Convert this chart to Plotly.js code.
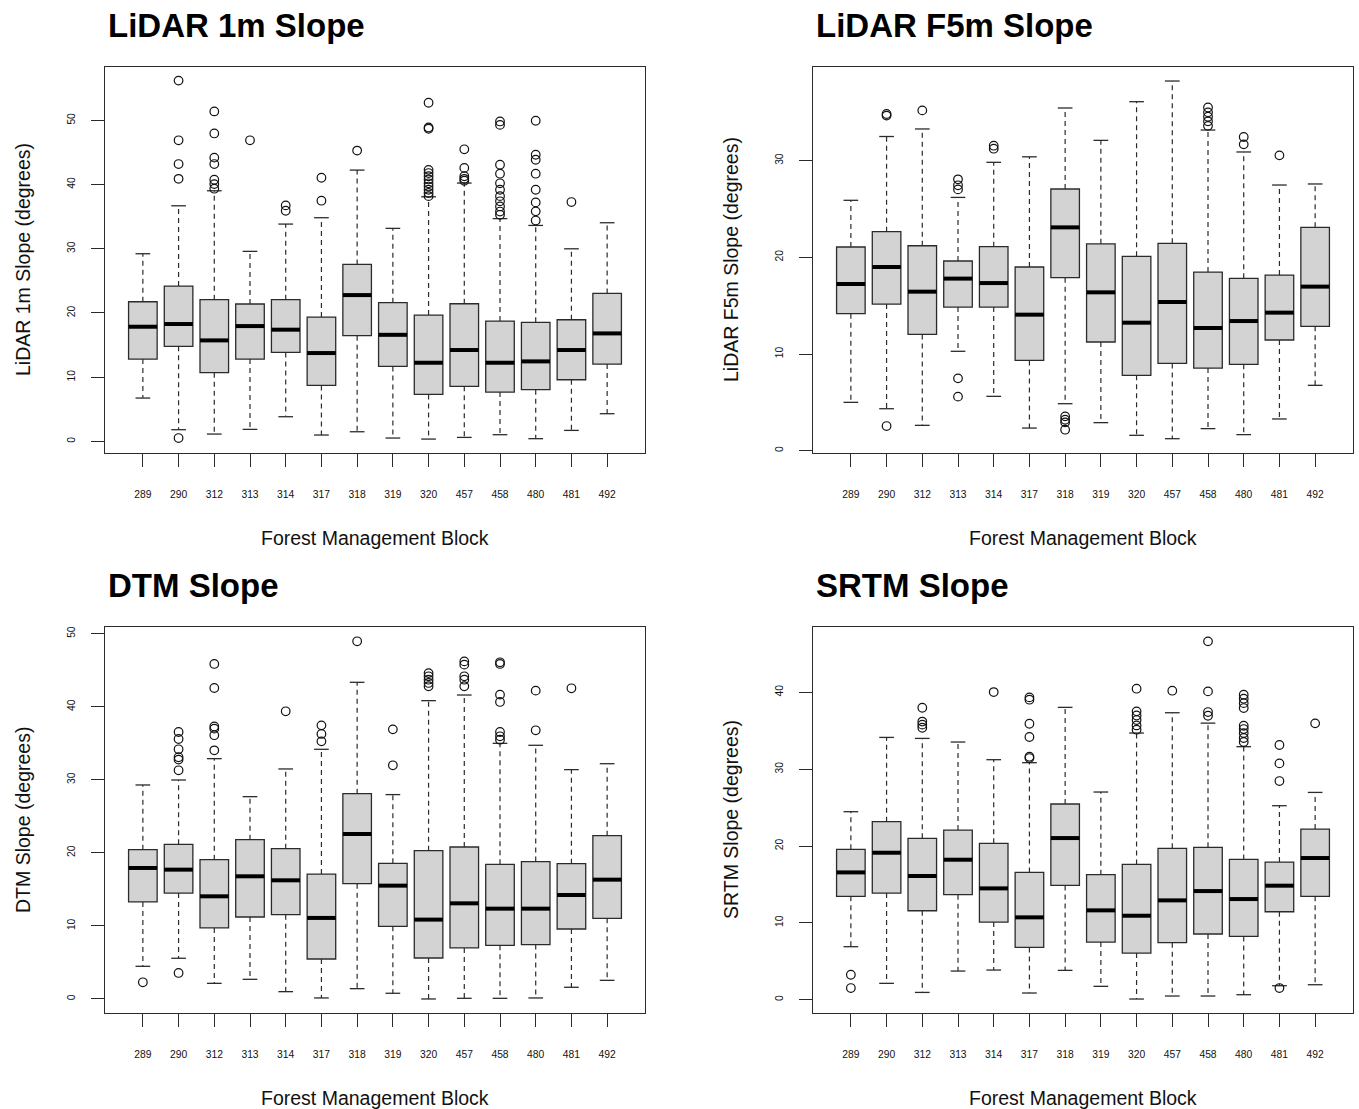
<!DOCTYPE html>
<html>
<head>
<meta charset="utf-8">
<script src="https://cdn.plot.ly/plotly-3.0.1.min.js"></script>
<style>html,body{margin:0;padding:0;background:#fff;}#chart{width:1359px;height:1109px;}</style>
</head>
<body>
<div id="chart"></div>
<script>
// ---------- DATA ----------
const blocks = ['289','290','312','313','314','317','318','319','320','457','458','480','481','492'];

// LiDAR 1m
const lidar1_q1  = [12.82, 14.8, 10.7, 12.82, 13.86, 8.72, 16.46, 11.68, 7.32, 8.57, 7.68, 8.05, 9.6, 12.05];
const lidar1_med = [17.86, 18.28, 15.73, 17.96, 17.4, 13.76, 22.79, 16.6, 12.25, 14.23, 12.25, 12.46, 14.23, 16.82];
const lidar1_q3  = [21.75, 24.2, 22.07, 21.4, 22.07, 19.37, 27.57, 21.6, 19.68, 21.44, 18.74, 18.54, 18.95, 23.05];
const lidar1_lo  = [6.75, 1.82, 1.14, 1.87, 3.84, 0.99, 1.5, 0.52, 0.36, 0.62, 1.04, 0.42, 1.71, 4.31];
const lidar1_hi  = [29.23, 36.7, 39.04, 29.6, 33.85, 34.84, 42.26, 33.18, 38.1, 40.24, 34.7, 33.64, 30.0, 34.06];
const lidar1_out = [
  [], [56.2, 46.9, 43.2, 40.9, 0.52], [51.4, 47.97, 44.2, 43.2, 40.76, 40.08, 39.36], [46.9],
  [36.76, 35.93], [41.07, 37.49], [45.3], [],
  [52.75, 48.9, 48.7, 42.3, 41.8, 41.3, 40.8, 40.2, 39.7, 39.2, 38.7, 38.2],
  [45.5, 42.6, 41.3, 40.9, 40.6],
  [49.84, 49.3, 43.1, 41.7, 40.2, 39.2, 38.2, 37.4, 36.6, 35.8, 35.3],
  [49.95, 44.65, 43.87, 41.7, 39.2, 37.23, 35.83, 34.4],
  [37.28], []
];

// LiDAR F5m
const lidar5_q1  = [14.17, 15.17, 12.03, 14.86, 14.86, 9.34, 17.9, 11.24, 7.79, 9.03, 8.55, 8.93, 11.45, 12.86];
const lidar5_med = [17.24, 19.0, 16.45, 17.8, 17.34, 14.07, 23.1, 16.38, 13.24, 15.38, 12.69, 13.41, 14.28, 16.97];
const lidar5_q3  = [21.07, 22.66, 21.2, 19.62, 21.1, 19.0, 27.07, 21.4, 20.1, 21.45, 18.48, 17.83, 18.17, 23.1];
const lidar5_lo  = [5.0, 4.34, 2.62, 10.28, 5.62, 2.34, 4.86, 2.9, 1.59, 1.24, 2.28, 1.66, 3.28, 6.76];
const lidar5_hi  = [25.9, 32.5, 33.28, 26.2, 29.83, 30.4, 35.45, 32.1, 36.1, 38.24, 33.17, 30.9, 27.48, 27.59];
const lidar5_out = [
  [], [34.83, 34.66, 2.55], [35.2], [28.07, 27.45, 27.03, 7.48, 5.59], [31.55, 31.24], [],
  [3.55, 3.2, 2.93, 2.17], [], [], [], [35.5, 35.0, 34.55, 34.07, 33.6], [32.45, 31.69], [30.55], []
];

// DTM
const dtm_q1  = [13.28, 14.5, 9.72, 11.22, 11.54, 5.47, 15.78, 9.94, 5.61, 6.98, 7.34, 7.44, 9.58, 11.04];
const dtm_med = [17.93, 17.7, 14.05, 16.79, 16.24, 11.09, 22.58, 15.51, 10.86, 13.09, 12.36, 12.36, 14.23, 16.33];
const dtm_q3  = [20.44, 21.17, 19.07, 21.8, 20.57, 17.1, 28.1, 18.57, 20.3, 20.8, 18.43, 18.8, 18.52, 22.35];
const dtm_lo  = [4.47, 5.57, 2.14, 2.69, 1.0, 0.14, 1.41, 0.78, 0.0, 0.09, 0.09, 0.14, 1.6, 2.55];
const dtm_hi  = [29.29, 29.97, 32.89, 27.69, 31.48, 34.17, 43.34, 27.97, 40.83, 41.6, 34.99, 34.72, 31.39, 32.2];
const dtm_out = [
  [2.28], [36.54, 35.58, 34.17, 33.08, 32.76, 31.3, 3.56], [45.85, 42.56, 37.3, 37.0, 36.1, 34.03], [],
  [39.37], [37.45, 36.27, 35.26], [48.95], [36.9, 31.98],
  [44.6, 44.16, 43.7, 43.25, 42.8], [46.2, 45.76, 44.16, 43.7, 42.8],
  [46.08, 45.85, 41.65, 40.65, 36.54, 35.95, 35.49], [42.2, 36.77], [42.52], []
];

// SRTM
const srtm_q1  = [13.45, 13.88, 11.58, 13.67, 10.1, 6.81, 14.88, 7.5, 6.07, 7.42, 8.55, 8.24, 11.45, 13.45];
const srtm_med = [16.57, 19.13, 16.1, 18.22, 14.49, 10.72, 21.04, 11.63, 10.93, 12.93, 14.14, 13.1, 14.84, 18.44];
const srtm_q3  = [19.57, 23.17, 21.0, 22.08, 20.35, 16.57, 25.47, 16.27, 17.61, 19.7, 19.83, 18.26, 17.92, 22.21];
const srtm_lo  = [6.9, 2.13, 0.95, 3.73, 3.86, 0.87, 3.82, 1.74, 0.09, 0.48, 0.48, 0.65, 1.82, 1.95];
const srtm_hi  = [24.47, 34.14, 34.01, 33.54, 31.24, 30.85, 38.05, 27.03, 34.71, 37.35, 36.0, 32.93, 25.25, 26.98];
const srtm_out = [
  [3.25, 1.52], [], [38.0, 36.2, 35.8, 35.4], [], [40.04], [39.35, 39.05, 35.92, 34.19, 31.63, 31.45],
  [], [], [40.48, 37.53, 37.0, 36.4, 35.7, 35.14], [40.22], [46.64, 40.13, 37.44, 36.96],
  [39.7, 39.18, 38.6, 37.96, 35.66, 35.23, 34.7, 34.06, 33.54], [33.15, 30.76, 28.46, 1.52], [35.97]
];

const panelTitles = ['LiDAR 1m Slope', 'LiDAR F5m Slope', 'DTM Slope', 'SRTM Slope'];
const yTitles = ['LiDAR 1m Slope (degrees)', 'LiDAR F5m Slope (degrees)', 'DTM Slope (degrees)', 'SRTM Slope (degrees)'];
const xTitle = 'Forest Management Block';

// ---------- BUILD ----------
const panels = [
  {q1: lidar1_q1, med: lidar1_med, q3: lidar1_q3, lo: lidar1_lo, hi: lidar1_hi, out: lidar1_out},
  {q1: lidar5_q1, med: lidar5_med, q3: lidar5_q3, lo: lidar5_lo, hi: lidar5_hi, out: lidar5_out},
  {q1: dtm_q1, med: dtm_med, q3: dtm_q3, lo: dtm_lo, hi: dtm_hi, out: dtm_out},
  {q1: srtm_q1, med: srtm_med, q3: srtm_q3, lo: srtm_lo, hi: srtm_hi, out: srtm_out}
];

const W = 1359, H = 1109;
const FONT = 'Liberation Sans, Arial, Helvetica, sans-serif';
const LC = '#2b2b2b';
// pixel boxes of plot areas [left, right, top, bottom]
const boxes = [[105, 645, 67, 453], [813, 1353, 67, 453], [105, 645, 627, 1013], [813, 1353, 627, 1013]];
const yRanges = [[-1.81, 58.32], [-0.24, 39.69], [-1.92, 50.91], [-1.73, 48.51]];
const yTickVals = [[0,10,20,30,40,50],[0,10,20,30],[0,10,20,30,40,50],[0,10,20,30,40]];

const traces = [];
const layout = {
  width: W, height: H, margin: {l: 0, r: 0, t: 0, b: 0},
  paper_bgcolor: '#fff', plot_bgcolor: '#fff', showlegend: false,
  font: {family: FONT, color: '#111'},
  annotations: []
};

panels.forEach((p, i) => {
  const sfx = i === 0 ? '' : String(i + 1);
  const xa = 'x' + sfx, ya = 'y' + sfx;
  // whiskers (dashed)
  const wx = [], wy = [];
  blocks.forEach((b, k) => {
    wx.push(b, b, null, b, b, null);
    wy.push(p.q3[k], p.hi[k], null, p.q1[k], p.lo[k], null);
  });
  traces.push({type: 'scatter', mode: 'lines', x: wx, y: wy, xaxis: xa, yaxis: ya,
    line: {color: LC, width: 1.2, dash: '5px,4px'}, connectgaps: false, hoverinfo: 'skip'});
  // caps
  traces.push({type: 'scatter', mode: 'markers', x: blocks.concat(blocks), y: p.hi.concat(p.lo),
    xaxis: xa, yaxis: ya, hoverinfo: 'skip',
    marker: {symbol: 'line-ew', size: 10.5, color: LC, line: {color: LC, width: 1.3}}});
  // boxes
  traces.push({type: 'box', x: blocks, q1: p.q1, median: p.med, q3: p.q3,
    lowerfence: p.q1, upperfence: p.q3, xaxis: xa, yaxis: ya, width: 0.8,
    fillcolor: '#d3d3d3', line: {color: LC, width: 1.3}, boxpoints: false, whiskerwidth: 0});
  // medians (thick)
  traces.push({type: 'scatter', mode: 'markers', x: blocks, y: p.med, xaxis: xa, yaxis: ya,
    hoverinfo: 'skip', marker: {symbol: 'line-ew', size: 20.4, color: '#000', line: {color: '#000', width: 4}}});
  // outliers
  const ox = [], oy = [];
  blocks.forEach((b, k) => { p.out[k].forEach(v => { ox.push(b); oy.push(v); }); });
  traces.push({type: 'scatter', mode: 'markers', x: ox, y: oy, xaxis: xa, yaxis: ya,
    marker: {symbol: 'circle-open', size: 8.6, color: '#111', line: {color: '#111', width: 1.2}}});

  const [L, R, T, B] = boxes[i];
  layout['xaxis' + sfx] = {
    domain: [L / W, R / W], anchor: ya, type: 'category',
    categoryorder: 'array', categoryarray: blocks, range: [-1.06, 14.06],
    showline: true, mirror: true, linecolor: LC, linewidth: 1.2,
    ticks: 'outside', ticklen: 13, tickcolor: LC, tickwidth: 1,
    tickfont: {size: 10.3, family: FONT, color: '#111'}, ticklabelstandoff: 18,
    showgrid: false, zeroline: false, fixedrange: true
  };
  layout['yaxis' + sfx] = {
    domain: [1 - B / H, 1 - T / H], anchor: xa, range: yRanges[i],
    tickmode: 'array', tickvals: yTickVals[i], tickangle: -90,
    showline: true, mirror: true, linecolor: LC, linewidth: 1.2,
    ticks: 'outside', ticklen: 13, tickcolor: LC, tickwidth: 1,
    tickfont: {size: 10.3, family: FONT, color: '#111'}, ticklabelstandoff: 12,
    showgrid: false, zeroline: false, fixedrange: true
  };
  // panel title
  layout.annotations.push({text: panelTitles[i], xref: 'paper', yref: 'paper',
    x: (L + 1) / W, y: 1 - (T - 42) / H, xanchor: 'left', yanchor: 'middle', showarrow: false,
    font: {size: 33, family: FONT, weight: 'bold', color: '#000'}});
  // x title
  layout.annotations.push({text: xTitle, xref: 'paper', yref: 'paper',
    x: ((L + R) / 2) / W, y: 1 - (B + 85) / H, xanchor: 'center', yanchor: 'middle', showarrow: false,
    font: {size: 19.5, family: FONT, color: '#111'}});
  // y title
  layout.annotations.push({text: yTitles[i], xref: 'paper', yref: 'paper',
    x: (L - 82) / W, y: 1 - ((T + B) / 2) / H, xanchor: 'center', yanchor: 'middle', textangle: -90,
    showarrow: false, font: {size: 19.5, family: FONT, color: '#111'}});
});

Plotly.newPlot('chart', traces, layout, {staticPlot: true, displayModeBar: false});
</script>
</body>
</html>
